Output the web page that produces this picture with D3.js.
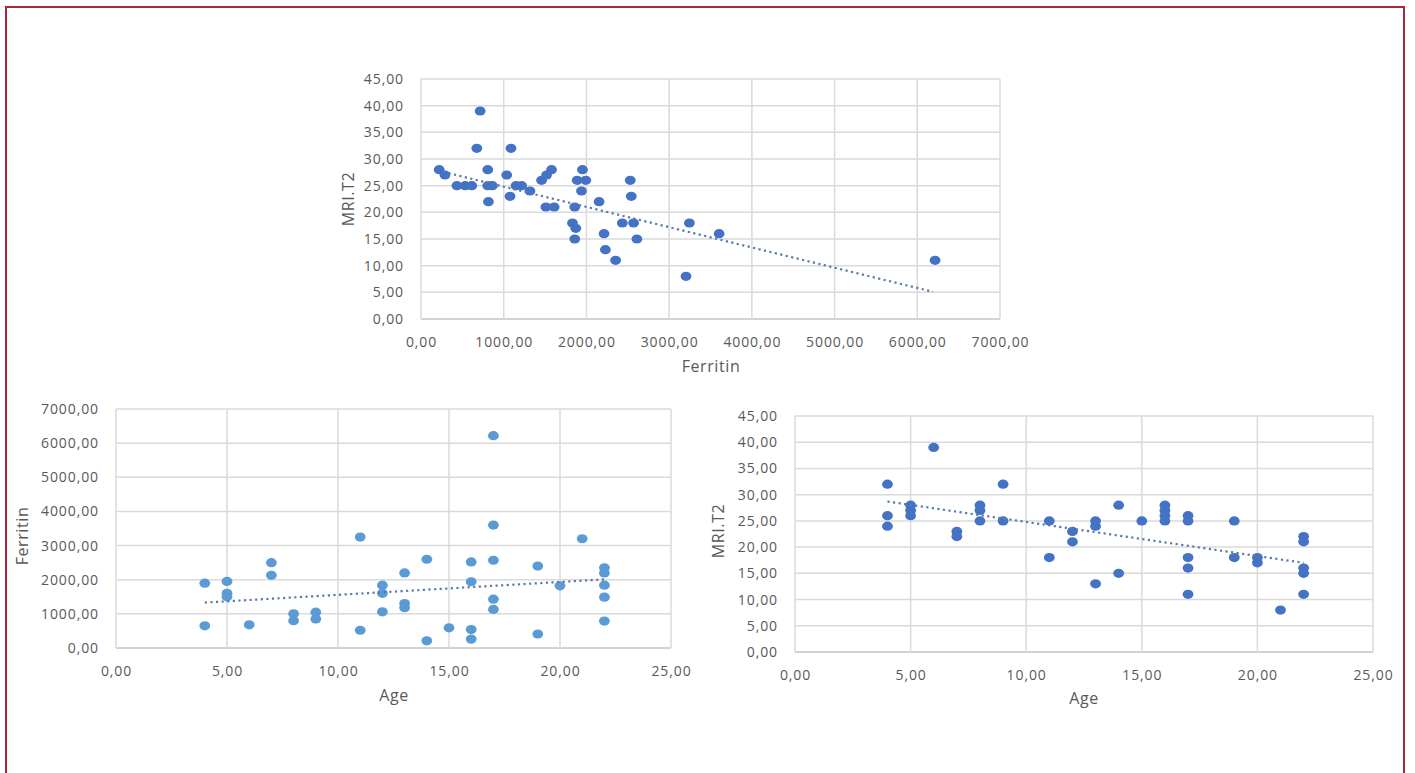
<!DOCTYPE html>
<html>
<head>
<meta charset="utf-8">
<script src="https://cdn.jsdelivr.net/npm/d3@7"></script>
<style>
  body { margin: 0; background: #fff; }
  svg { display: block; }
  .tick text { font-family: "Open Sans", sans-serif; font-size: 14px; letter-spacing: 0.9px; fill: #595959; }
  .title { font-family: "Open Sans", sans-serif; font-size: 16px; letter-spacing: 0.6px; fill: #595959; }
</style>
</head>
<body>
<script>
// chart 1 : Ferritin vs MRI.T2
const ferritin1 = [220, 290, 434, 534, 614, 715, 675, 807, 807, 863, 815, 1036, 1088, 1076, 1149, 1217, 1317,
  1458, 1518, 1578, 1510, 1610, 1859, 1831, 1871, 1859, 1888, 1992, 1952, 1940, 2153, 2213, 2229, 2353,
  2434, 2530, 2542, 2570, 2610, 3245, 3604, 3204, 6215];
const mri1 = [28, 27, 25, 25, 25, 39, 32, 28, 25, 25, 22, 27, 32, 23, 25, 25, 24,
  26, 27, 28, 21, 21, 21, 18, 17, 15, 26, 26, 28, 24, 22, 16, 13, 11,
  18, 26, 23, 18, 15, 18, 16, 8, 11];
const trend1X = [266, 6190];
const trend1Y = [27.6, 5.1];

// chart 2 : Age vs Ferritin
const age2 = [4, 4, 5, 5, 5, 6, 7, 7, 8, 8, 9, 9, 11, 11, 12, 12, 12, 13, 13, 13, 14, 14, 15,
  16, 16, 16, 16, 17, 17, 17, 17, 17, 19, 19, 20, 21, 22, 22, 22, 22, 22];
const ferritin2 = [1900, 650, 1950, 1600, 1500, 680, 2500, 2130, 1000, 800, 1050, 850, 3250, 520,
  1840, 1600, 1060, 2200, 1300, 1180, 2600, 210, 590, 2520, 1940, 540, 260,
  6220, 3600, 2570, 1430, 1130, 2400, 410, 1820, 3200, 2350, 2200, 1840, 1490, 790];
const trend2X = [4, 22];
const trend2Y = [1330, 2010];

// chart 3 : Age vs MRI.T2
const age3 = [4, 4, 4, 5, 5, 5, 6, 7, 7, 8, 8, 8, 9, 9, 11, 11, 12, 12, 13, 13, 13, 14, 14, 15,
  16, 16, 16, 16, 17, 17, 17, 17, 17, 19, 19, 20, 20, 21, 22, 22, 22, 22, 22];
const mri3 = [32, 26, 24, 28, 27, 26, 39, 23, 22, 28, 27, 25, 32, 25, 25, 18, 23, 21, 25, 24, 13, 28, 15, 25,
  28, 27, 26, 25, 26, 25, 18, 16, 11, 25, 18, 18, 17, 8, 22, 21, 16, 15, 11];
const trend3X = [4, 22];
const trend3Y = [28.7, 17.0];

const ferritinTicks = [0, 1000, 2000, 3000, 4000, 5000, 6000, 7000];
const mriTicks = [0, 5, 10, 15, 20, 25, 30, 35, 40, 45];
const ageTicks = [0, 5, 10, 15, 20, 25];

const w = 1415, h = 773;
const fmt = v => d3.format(".2f")(v).replace(".", ",");

const svg = d3.select("body").append("svg").attr("width", w).attr("height", h);

// red frame of the page
svg.append("rect")
  .attr("x", 6).attr("y", 7).attr("width", 1398).attr("height", 800)
  .attr("fill", "none").attr("stroke", "#a8283a").attr("stroke-width", 2);

function scatter(cfg) {
  const x = d3.scaleLinear().domain(d3.extent(cfg.xTicks)).range([cfg.left, cfg.right]);
  const y = d3.scaleLinear().domain(d3.extent(cfg.yTicks)).range([cfg.bottom, cfg.top]);
  const g = svg.append("g");

  g.selectAll(".hgrid").data(cfg.yTicks).enter().append("line")
    .attr("x1", cfg.left).attr("x2", cfg.right)
    .attr("y1", d => y(d)).attr("y2", d => y(d))
    .attr("stroke", d => d === 0 ? "#c4c4c4" : "#dadada").attr("stroke-width", 1.5);
  g.selectAll(".vgrid").data(cfg.xTicks).enter().append("line")
    .attr("y1", cfg.top).attr("y2", cfg.bottom)
    .attr("x1", d => x(d)).attr("x2", d => x(d))
    .attr("stroke", "#dadada").attr("stroke-width", 1.5);

  g.append("g")
    .attr("transform", "translate(0," + cfg.bottom + ")")
    .call(d3.axisBottom(x).tickValues(cfg.xTicks).tickFormat(fmt).tickSize(0).tickPadding(18))
    .call(a => a.select(".domain").remove());
  g.append("g")
    .attr("transform", "translate(" + cfg.left + ",0)")
    .call(d3.axisLeft(y).tickValues(cfg.yTicks).tickFormat(fmt).tickSize(0).tickPadding(17))
    .call(a => a.select(".domain").remove());

  const pts = cfg.xs.map((v, i) => [v, cfg.ys[i]]);
  g.selectAll("ellipse").data(pts).enter().append("ellipse")
    .attr("cx", d => x(d[0])).attr("cy", d => y(d[1]))
    .attr("rx", 5.4).attr("ry", 4.6)
    .attr("fill", cfg.color);

  const tr = cfg.trendX.map((v, i) => [v, cfg.trendY[i]]);
  g.append("path")
    .attr("d", d3.line().x(d => x(d[0])).y(d => y(d[1]))(tr))
    .attr("fill", "none").attr("stroke", "#5b7aa6")
    .attr("stroke-width", 2.2).attr("stroke-dasharray", "2.2,3.4");

  g.append("text").attr("class", "title")
    .attr("x", cfg.xTitle[0]).attr("y", cfg.xTitle[1])
    .attr("text-anchor", "middle").text(cfg.xLabel);
  g.append("text").attr("class", "title")
    .attr("transform", "translate(" + cfg.yTitle[0] + "," + cfg.yTitle[1] + ") rotate(-90)")
    .attr("text-anchor", "middle").attr("dy", "0.35em").text(cfg.yLabel);
}

scatter({
  xs: ferritin1, ys: mri1, trendX: trend1X, trendY: trend1Y,
  xTicks: ferritinTicks, yTicks: mriTicks,
  left: 421, right: 1000, top: 79, bottom: 319,
  color: "#4472c4", xLabel: "Ferritin", yLabel: "MRI.T2",
  xTitle: [711, 372], yTitle: [348, 199]
});

scatter({
  xs: age2, ys: ferritin2, trendX: trend2X, trendY: trend2Y,
  xTicks: ageTicks, yTicks: ferritinTicks,
  left: 116, right: 671, top: 409, bottom: 648,
  color: "#5b9bd5", xLabel: "Age", yLabel: "Ferritin",
  xTitle: [394, 701], yTitle: [22, 536]
});

scatter({
  xs: age3, ys: mri3, trendX: trend3X, trendY: trend3Y,
  xTicks: ageTicks, yTicks: mriTicks,
  left: 795, right: 1373, top: 416, bottom: 652,
  color: "#4472c4", xLabel: "Age", yLabel: "MRI.T2",
  xTitle: [1084, 704], yTitle: [718, 531]
});
</script>
</body>
</html>
